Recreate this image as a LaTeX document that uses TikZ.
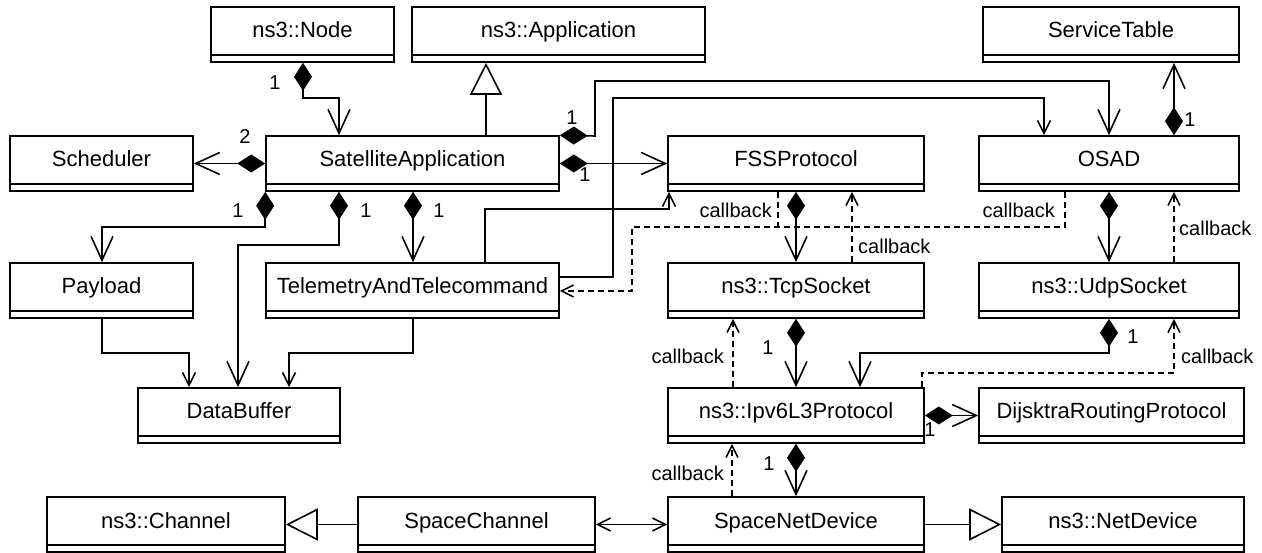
\documentclass[tikz,border=0pt]{standalone}
\usepackage{fontspec}
\setmainfont{Liberation Sans}
\usetikzlibrary{arrows.meta}
\tikzset{
  cls/.style={draw, line width=1.6pt, inner sep=0pt, text height=12pt, text depth=5pt,
    minimum height=55pt, font=\fontsize{22}{26}\selectfont},
  lbl/.style={inner sep=0pt, text height=14pt, text depth=0pt, font=\fontsize{20}{24}\selectfont},
  conn/.style={line width=1.6pt},
  comp/.style={conn, {Diamond[length=28pt,width=18pt]}-{Straight Barb[length=24pt,width=22pt]}},
  assoc/.style={conn, -{Straight Barb[length=13pt,width=13pt]}},
  both/.style={conn, {Straight Barb[length=13pt,width=13pt]}-{Straight Barb[length=13pt,width=13pt]}},
  cb/.style={conn, dash pattern=on 6pt off 4pt, -{Straight Barb[length=12pt,width=12pt]}},
  cbline/.style={conn, dash pattern=on 6pt off 4pt},
  inh/.style={conn, -{Triangle[open,length=32pt,width=32pt]}},
}
\newcommand\umlclass[5]{%
  \node[cls, minimum width=#4pt] (#1) at (#2,#3) {#5};
  \draw[line width=1.6pt] ([yshift=8pt]#1.south west) -- ([yshift=8pt]#1.south east);}
\begin{document}
\begin{tikzpicture}[x=1pt,y=-1pt]
\useasboundingbox (0,0) rectangle (1262,553);
% classes
\umlclass{nsnode}{302.5}{34.5}{183}{ns3::Node}
\umlclass{app}{558.5}{34.5}{293}{ns3::Application}
\umlclass{svc}{1111}{34.5}{256}{ServiceTable}
\umlclass{sched}{101.5}{163.5}{183}{Scheduler}
\umlclass{sat}{412.5}{163.5}{293}{SatelliteApplication}
\umlclass{fss}{796}{163.5}{256}{FSSProtocol}
\umlclass{osad}{1109}{163.5}{260}{OSAD}
\umlclass{payload}{101.5}{290.5}{183}{Payload}
\umlclass{tat}{412.5}{290.5}{293}{TelemetryAndTelecommand}
\umlclass{tcp}{796}{290.5}{256}{ns3::TcpSocket}
\umlclass{udp}{1109}{290.5}{260}{ns3::UdpSocket}
\umlclass{buf}{239}{415.5}{202}{DataBuffer}
\umlclass{ipv}{796}{415.5}{256}{ns3::Ipv6L3Protocol}
\umlclass{dijk}{1111.5}{415.5}{265}{DijsktraRoutingProtocol}
\umlclass{chan}{166}{524.5}{238}{ns3::Channel}
\umlclass{spch}{476.5}{524.5}{237}{SpaceChannel}
\umlclass{snd}{796}{524.5}{256}{SpaceNetDevice}
\umlclass{netdev}{1123}{524.5}{242}{ns3::NetDevice}
% connectors
\draw[comp] (nsnode.south -| 303,0) -- (303,98) -| (sat.north -| 339,0);
\draw[inh] (sat.north -| 486,0) -- (app.south -| 486,0);
\draw[comp] (sat.west) -- (sched.east);
\draw[comp] (sat.north east) -- (595,136) -- (595,81) -| (osad.north);
\draw[comp] (sat.east) -- (fss.west);
\draw[assoc] (tat.east |- 0,277) -| (613,98) -| (osad.north -| 1044,0);
\draw[assoc] (tat.north -| 485,0) |- (669,209) -- (fss.south -| 669,0);
\draw[comp] (sat.south west) |- (102,227) -- (payload.north -| 102,0);
\draw[comp] (sat.south -| 339,0) |- (238,245) -- (buf.north -| 238,0);
\draw[comp] (sat.south -| 413,0) -- (tat.north -| 413,0);
\draw[assoc] (payload.south -| 102,0) |- (189,353) -- (buf.north -| 189,0);
\draw[assoc] (tat.south -| 413,0) |- (289,353) -- (buf.north -| 289,0);
\draw[comp] (fss.south) -- (tcp.north);
\draw[cb] (tcp.north -| 852,0) -- (fss.south -| 852,0);
\draw[cbline] (fss.south -| 778,0) -- (778,227);
\draw[cb] (osad.south -| 1065,0) |- (632,227) |- (tat.east |- 0,291);
\draw[cb] (udp.north -| 1174,0) -- (osad.south -| 1174,0);
\draw[comp] (osad.south) -- (udp.north);
\draw[comp] (osad.north -| 1174,0) -- (svc.south -| 1174,0);
\draw[comp] (tcp.south) -- (ipv.north);
\draw[cb] (ipv.north -| 733,0) -- (tcp.south -| 733,0);
\draw[comp] (udp.south) |- (860,353) -- (ipv.north -| 860,0);
\draw[cb] (ipv.north -| 922,0) |- (1174,373) -- (udp.south -| 1174,0);
\draw[comp] (ipv.east) -- (dijk.west);
\draw[comp] (ipv.south) -- (snd.north);
\draw[cb] (snd.north -| 732,0) -- (ipv.south -| 732,0);
\draw[inh] (spch.west) -- (chan.east);
\draw[both] (spch.east) -- (snd.west);
\draw[inh] (snd.east) -- (netdev.west);
% labels
\node[lbl] (l1) at (275,83) {1};
\node[lbl] (l2) at (245,137) {2};
\node[lbl] (l3) at (572,118) {1};
\node[lbl] (l4) at (585,175) {1};
\node[lbl] (l5) at (1190,120) {1};
\node[lbl] (l6) at (238,211) {1};
\node[lbl] (l7) at (366,211) {1};
\node[lbl] (l8) at (439,211) {1};
\node[lbl, anchor=east] (c1) at (772,211) {callback};
\node[lbl, anchor=east] (c2) at (1055,211) {callback};
\node[lbl, anchor=west] (c3) at (858,247) {callback};
\node[lbl, anchor=west] (c4) at (1179,229) {callback};
\node[lbl] (l9) at (768,348) {1};
\node[lbl, anchor=east] (c5) at (724,357) {callback};
\node[lbl] (l10) at (1133,337) {1};
\node[lbl, anchor=west] (c6) at (1181,357) {callback};
\node[lbl] (l11) at (930,430) {1};
\node[lbl] (l12) at (769,463) {1};
\node[lbl, anchor=east] (c7) at (724,473) {callback};
\end{tikzpicture}
\end{document}
